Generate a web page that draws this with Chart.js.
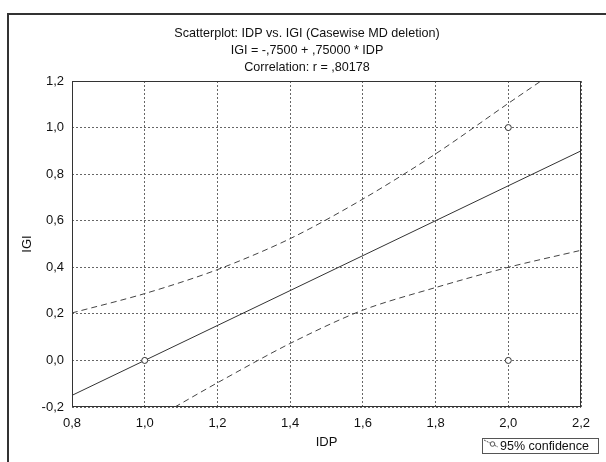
<!DOCTYPE html>
<html>
<head>
<meta charset="utf-8">
<title>Scatterplot: IDP vs. IGI</title>
<script src="https://cdn.jsdelivr.net/npm/chart.js"></script>
<style>
    html, body { margin: 0; padding: 0; background: #fff; }
    #wrap { width: 606px; height: 462px; }
</style>
</head>
<body>
<div id="wrap"><canvas id="scatterChart" width="606" height="462"></canvas></div>
<script>
// observed cases
const pointsX = [1.0, 2.0, 2.0];
const pointsY = [0.0, 0.0, 1.0];

// fitted line, read where it meets the plot edges
const fitX = [0.8, 2.2];
const fitY = [-0.15, 0.90];

// 95% confidence bands
const upperX = [0.8, 1.0, 1.2, 1.4, 1.6, 1.8, 2.0, 2.09];
const upperY = [0.204, 0.287, 0.39, 0.523, 0.693, 0.887, 1.104, 1.2];
const lowerX = [1.083, 1.2, 1.4, 1.6, 1.8, 2.0, 2.2];
const lowerY = [-0.2, -0.096, 0.073, 0.216, 0.313, 0.40, 0.473];

// axis ticks
const xTickValues = [0.8, 1.0, 1.2, 1.4, 1.6, 1.8, 2.0, 2.2];
const xTickLabels = ['0,8', '1,0', '1,2', '1,4', '1,6', '1,8', '2,0', '2,2'];
const yTickValues = [-0.2, 0.0, 0.2, 0.4, 0.6, 0.8, 1.0, 1.2];
const yTickLabels = ['-0,2', '0,0', '0,2', '0,4', '0,6', '0,8', '1,0', '1,2'];

const titleLines = [
    'Scatterplot: IDP vs. IGI (Casewise MD deletion)',
    'IGI = -,7500 + ,75000 * IDP',
    'Correlation: r = ,80178'
];
const xAxisTitle = 'IDP';
const yAxisTitle = 'IGI';
const legendLabel = '95% confidence';

const FONT = 'Liberation Sans, Arial, sans-serif';
const INK = '#111';

document.addEventListener('DOMContentLoaded', function() {
    initScatterChart();
});

// pair two arrays into {x, y} points
function zip(xs, ys) {
    return xs.map((x, i) => ({ x: x, y: ys[i] }));
}

// outer frame and plot box
const framePlugin = {
    id: 'frame',
    beforeDraw(chart) {
        const ctx = chart.ctx;
        ctx.save();
        ctx.fillStyle = '#fff';
        ctx.fillRect(0, 0, chart.width, chart.height);
        ctx.fillStyle = '#333';
        ctx.fillRect(7, 13, 2, chart.height);
        ctx.fillRect(7, 13, chart.width, 2);
        ctx.restore();
    },
    afterDraw(chart) {
        const ctx = chart.ctx;
        const a = chart.chartArea;
        ctx.save();
        ctx.strokeStyle = '#333';
        ctx.lineWidth = 1;
        ctx.strokeRect(Math.round(a.left) + 0.5, Math.round(a.top) + 0.5,
            Math.round(a.right - a.left) - 1, Math.round(a.bottom - a.top) - 1);
        ctx.restore();
    }
};

// small boxed legend at the bottom right
const legendPlugin = {
    id: 'legendBox',
    afterDraw(chart) {
        const ctx = chart.ctx;
        const w = 116, h = 15;
        const x = chart.width - 8 - w;
        const y = Math.round(chart.chartArea.bottom) + 31;
        ctx.save();
        ctx.strokeStyle = '#555';
        ctx.lineWidth = 1;
        ctx.strokeRect(x + 0.5, y + 0.5, w, h);

        // icon: dashed stroke with an open marker
        ctx.strokeStyle = '#555';
        ctx.setLineDash([2, 1]);
        ctx.beginPath();
        ctx.moveTo(x + 2, y + 2);
        ctx.lineTo(x + 16, y + 9);
        ctx.stroke();
        ctx.setLineDash([]);
        ctx.beginPath();
        ctx.arc(x + 10.5, y + 6, 2.3, 0, Math.PI * 2);
        ctx.fillStyle = '#fff';
        ctx.fill();
        ctx.stroke();

        ctx.fillStyle = INK;
        ctx.font = '12.5px ' + FONT;
        ctx.textBaseline = 'middle';
        ctx.fillText(legendLabel, x + 18, y + h / 2 + 1);
        ctx.restore();
    }
};

function initScatterChart() {
    const ctx = document.getElementById('scatterChart').getContext('2d');

    const tickFont = { family: FONT, size: 13 };

    new Chart(ctx, {
        type: 'scatter',
        data: {
            datasets: [
                {
                    label: 'cases',
                    data: zip(pointsX, pointsY),
                    pointRadius: 3,
                    pointBorderWidth: 1,
                    pointBorderColor: '#333',
                    pointBackgroundColor: '#fff'
                },
                {
                    label: 'fit',
                    data: zip(fitX, fitY),
                    showLine: true,
                    pointRadius: 0,
                    borderColor: '#333',
                    borderWidth: 1
                },
                {
                    label: legendLabel,
                    data: zip(upperX, upperY),
                    showLine: true,
                    pointRadius: 0,
                    tension: 0.3,
                    borderColor: '#444',
                    borderWidth: 1,
                    borderDash: [6, 4]
                },
                {
                    label: legendLabel + ' (lower)',
                    data: zip(lowerX, lowerY),
                    showLine: true,
                    pointRadius: 0,
                    tension: 0.3,
                    borderColor: '#444',
                    borderWidth: 1,
                    borderDash: [6, 4]
                }
            ]
        },
        options: {
            responsive: false,
            animation: false,
            layout: { padding: { left: 8, right: 0, top: 0, bottom: 0 } },
            plugins: {
                legend: { display: false },
                tooltip: { enabled: false },
                title: {
                    display: true,
                    text: titleLines,
                    color: INK,
                    font: { family: FONT, size: 12.6, weight: 'normal', lineHeight: 17 / 12.6 },
                    padding: { top: 25, bottom: 5 }
                }
            },
            scales: {
                x: {
                    type: 'linear',
                    min: 0.8,
                    max: 2.2,
                    afterBuildTicks: s => { s.ticks = xTickValues.map(v => ({ value: v })); },
                    afterFit: s => { s.height = 55; },
                    ticks: {
                        padding: 9,
                        color: INK,
                        font: tickFont,
                        maxRotation: 0,
                        callback: (v, i) => xTickLabels[i]
                    },
                    grid: { color: '#666', lineWidth: 1, drawTicks: false },
                    border: { display: false, dash: [2, 2] },
                    title: {
                        display: true,
                        text: xAxisTitle,
                        color: INK,
                        font: tickFont,
                        padding: { top: 0, bottom: 12 }
                    }
                },
                y: {
                    type: 'linear',
                    min: -0.2,
                    max: 1.2,
                    afterBuildTicks: s => { s.ticks = yTickValues.map(v => ({ value: v })); },
                    afterFit: s => { s.width = 64; },
                    ticks: {
                        padding: 8,
                        color: INK,
                        font: tickFont,
                        callback: (v, i) => yTickLabels[i]
                    },
                    grid: { color: '#666', lineWidth: 1, drawTicks: false },
                    border: { display: false, dash: [2, 2] },
                    title: {
                        display: true,
                        text: yAxisTitle,
                        color: INK,
                        font: tickFont,
                        padding: { top: 12, bottom: 0 }
                    }
                },
                // empty spacer keeps the plot clear of the right edge
                spacer: {
                    type: 'linear',
                    position: 'right',
                    display: true,
                    afterFit: s => { s.width = 25; },
                    ticks: { display: false },
                    grid: { display: false, drawTicks: false },
                    border: { display: false }
                }
            }
        },
        plugins: [framePlugin, legendPlugin]
    });
}
</script>
</body>
</html>
